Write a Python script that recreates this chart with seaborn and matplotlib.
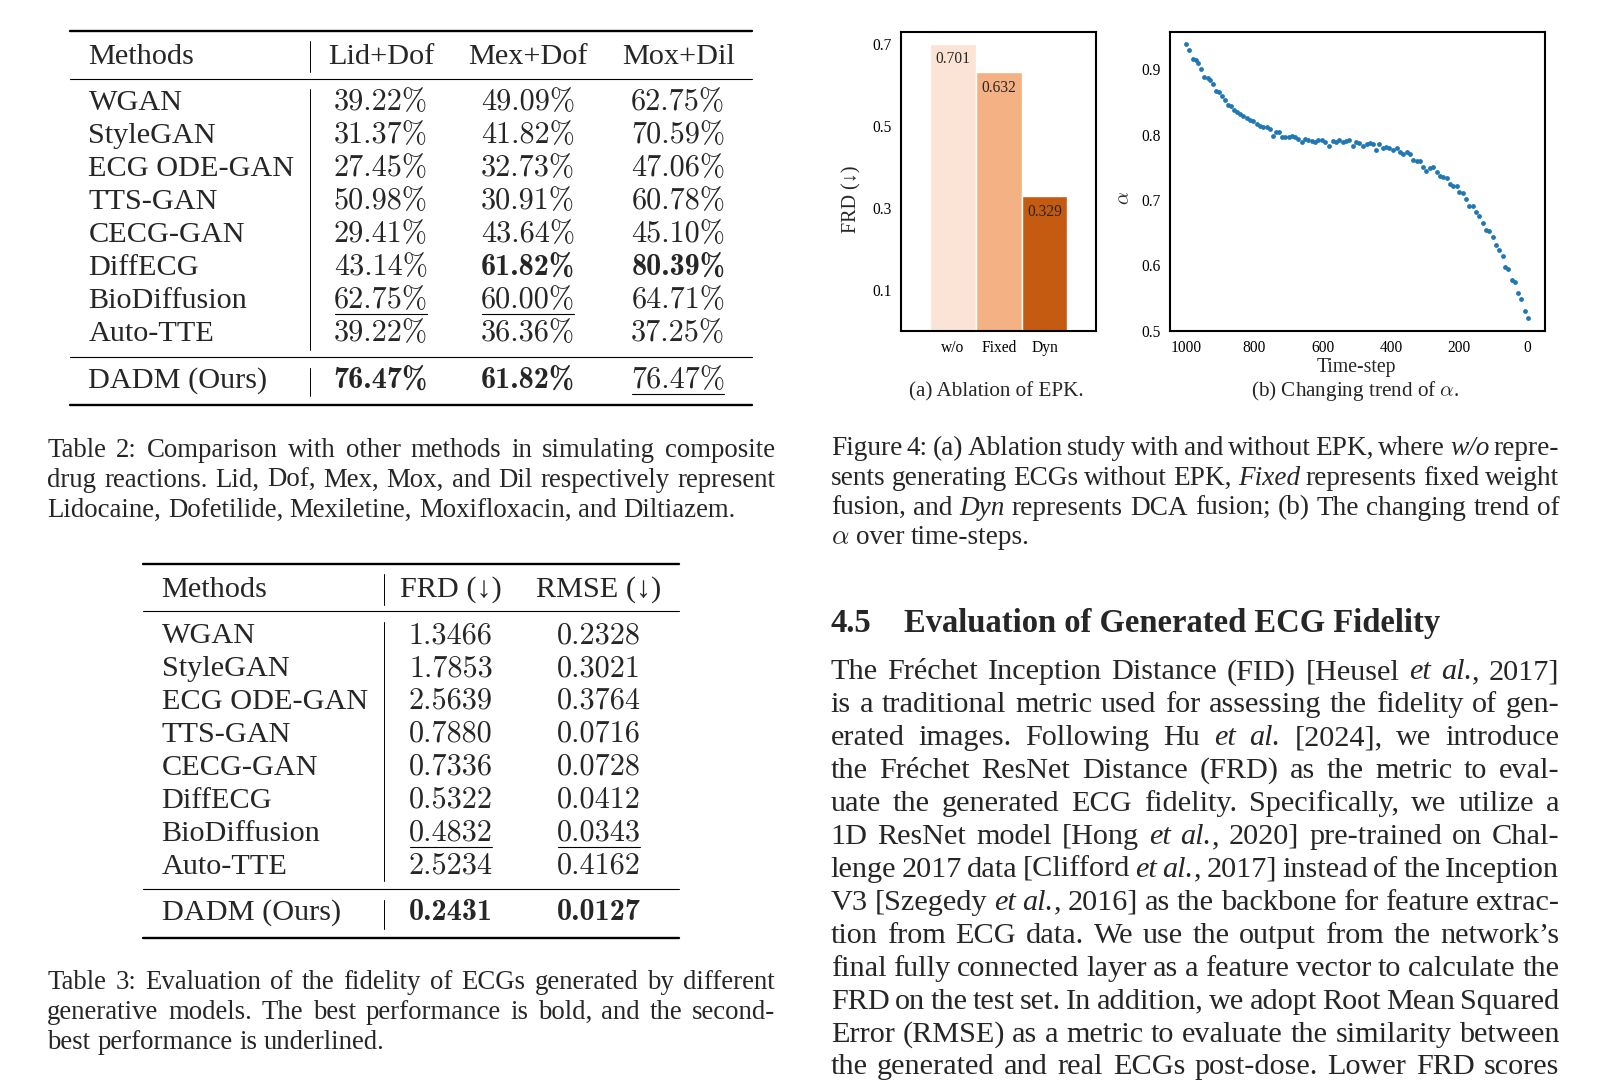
import matplotlib
matplotlib.use("Agg")
import matplotlib.pyplot as plt
from matplotlib.lines import Line2D
import seaborn as sns

W, H = 1614, 1086

# ---- table data ----
methods = ["WGAN", "StyleGAN", "ECG ODE-GAN", "TTS-GAN", "CECG-GAN",
           "DiffECG", "BioDiffusion", "Auto-TTE", "DADM (Ours)"]
combo_cols = ["Lid+Dof", "Mex+Dof", "Mox+Dil"]
lid_dof = [39.22, 31.37, 27.45, 50.98, 29.41, 43.14, 62.75, 39.22, 76.47]
mex_dof = [49.09, 41.82, 32.73, 30.91, 43.64, 61.82, 60.00, 36.36, 61.82]
mox_dil = [62.75, 70.59, 47.06, 60.78, 45.10, 80.39, 64.71, 37.25, 76.47]
t2_bold = {(5, 1), (5, 2), (8, 0), (8, 1)}
t2_under = {(6, 0), (6, 1), (8, 2)}

fid_cols = ["FRD (↓)", "RMSE (↓)"]
frd = [1.3466, 1.7853, 2.5639, 0.7880, 0.7336, 0.5322, 0.4832, 2.5234, 0.2431]
rmse = [0.2328, 0.3021, 0.3764, 0.0716, 0.0728, 0.0412, 0.0343, 0.4162, 0.0127]
t3_bold = {(8, 0), (8, 1)}
t3_under = {(6, 0), (6, 1)}

# ---- figure 4 data ----
ablation = ["w/o", "Fixed", "Dyn"]
ablation_frd = [0.701, 0.632, 0.329]
bar_colors = ["#FBE4D6", "#F4B183", "#C55A11"]

timestep = [1000, 990, 980, 971, 964, 956, 946, 937, 929, 920, 912, 903, 895, 886,
            878, 868, 859, 851, 842, 832, 822, 813, 803, 793, 783, 774, 764, 754,
            746, 737, 727, 720, 710, 700, 691, 681, 671, 661, 652, 642, 632, 622,
            613, 603, 593, 580, 571, 561, 551, 541, 532, 522, 512, 502, 493, 481,
            471, 461, 452, 444, 434, 424, 415, 405, 395, 383, 374, 364, 354, 344,
            335, 325, 315, 305, 296, 286, 276, 266, 257, 247, 237, 227, 218, 208,
            200, 190, 180, 171, 161, 151, 141, 132, 122, 112, 102, 93, 83, 73,
            66, 57, 47, 37, 27, 18, 8, 0]
alpha = [0.938, 0.930, 0.916, 0.914, 0.910, 0.900, 0.888, 0.886, 0.884, 0.878,
         0.866, 0.865, 0.859, 0.853, 0.845, 0.843, 0.837, 0.834, 0.831, 0.829,
         0.826, 0.823, 0.820, 0.816, 0.813, 0.812, 0.811, 0.808, 0.798, 0.804,
         0.804, 0.796, 0.797, 0.797, 0.798, 0.796, 0.793, 0.789, 0.793, 0.792,
         0.790, 0.789, 0.792, 0.791, 0.788, 0.783, 0.790, 0.789, 0.791, 0.789,
         0.790, 0.791, 0.783, 0.789, 0.787, 0.783, 0.785, 0.787, 0.785, 0.776,
         0.785, 0.780, 0.781, 0.779, 0.777, 0.780, 0.773, 0.770, 0.773, 0.770,
         0.761, 0.759, 0.759, 0.751, 0.745, 0.749, 0.751, 0.742, 0.737, 0.735,
         0.733, 0.724, 0.722, 0.721, 0.712, 0.710, 0.702, 0.691, 0.690, 0.681,
         0.675, 0.665, 0.654, 0.652, 0.644, 0.631, 0.623, 0.614, 0.598, 0.595,
         0.578, 0.574, 0.558, 0.549, 0.530, 0.519]

# ---- running text (_ toggles italics) ----
cap2 = ["Table 2: Comparison with other methods in simulating composite",
        "drug reactions. Lid, Dof, Mex, Mox, and Dil respectively represent",
        "Lidocaine, Dofetilide, Mexiletine, Moxifloxacin, and Diltiazem."]
cap3 = ["Table 3: Evaluation of the fidelity of ECGs generated by different",
        "generative models. The best performance is bold, and the second-",
        "best performance is underlined."]
cap4 = ["Figure 4: (a) Ablation study with and without EPK, where _w/o_ repre-",
        "sents generating ECGs without EPK, _Fixed_ represents fixed weight",
        "fusion, and _Dyn_ represents DCA fusion; (b) The changing trend of",
        "$\\alpha$ over time-steps."]
body = ["The Fréchet Inception Distance (FID) [Heusel _et al._, 2017]",
        "is a traditional metric used for assessing the fidelity of gen-",
        "erated images. Following Hu _et al._ [2024], we introduce",
        "the Fréchet ResNet Distance (FRD) as the metric to eval-",
        "uate the generated ECG fidelity. Specifically, we utilize a",
        "1D ResNet model [Hong _et al._, 2020] pre-trained on Chal-",
        "lenge 2017 data [Clifford _et al._, 2017] instead of the Inception",
        "V3 [Szegedy _et al._, 2016] as the backbone for feature extrac-",
        "tion from ECG data. We use the output from the network’s",
        "final fully connected layer as a feature vector to calculate the",
        "FRD on the test set. In addition, we adopt Root Mean Squared",
        "Error (RMSE) as a metric to evaluate the similarity between",
        "the generated and real ECGs post-dose. Lower FRD scores"]

sns.set_style("white")
plt.rcParams["font.family"] = ["Liberation Serif", "DejaVu Serif"]
plt.rcParams["mathtext.fontset"] = "cm"

fig = plt.figure(figsize=(W / 100, H / 100), dpi=100)
renderer = fig.canvas.get_renderer()


def base_of(y, size):
    return y + 0.3 * size * 100 / 72


def label(x, y, s, size, ha="left", **kw):
    return fig.text(x / W, 1 - base_of(y, size) / H, s, fontsize=size, ha=ha,
                    va="baseline", **kw)


def hrule(y, x0, x1, lw):
    fig.add_artist(Line2D([x0 / W, x1 / W], [1 - y / H] * 2, color="black",
                          lw=lw, transform=fig.transFigure))


def vrule(x, y0, y1, lw=0.7):
    fig.add_artist(Line2D([x / W] * 2, [1 - y0 / H, 1 - y1 / H], color="black",
                          lw=lw, transform=fig.transFigure))


def parse(line):
    words, cur, ital, buf = [], [], False, ""
    for ch in line + " ":
        if ch == "_":
            if buf:
                cur.append((buf, ital))
                buf = ""
            ital = not ital
        elif ch == " ":
            if buf:
                cur.append((buf, ital))
                buf = ""
            if cur:
                words.append(cur)
                cur = []
        else:
            buf += ch
    return words


def write(y, line, x0, x1, size, justify=True):
    words = parse(line)
    placed, widths = [], []
    for w in words:
        row, tot = [], 0
        for txt, it in w:
            t = label(0, y, txt, size, style="italic" if it else "normal")
            wd = t.get_window_extent(renderer).width
            row.append((t, wd))
            tot += wd
        placed.append(row)
        widths.append(tot)
    if justify and len(words) > 1:
        gap = (x1 - x0 - sum(widths)) / (len(words) - 1)
    else:
        gap = 0.25 * size * 100 / 72
    x = x0
    for row in placed:
        for t, wd in row:
            t.set_x(x / W)
            x += wd
        x += gap


def paragraph(lines, y0, step, x0, x1, size, last_full=False):
    for i, ln in enumerate(lines):
        full = last_full or i < len(lines) - 1
        write(y0 + i * step, ln, x0, x1, size, justify=full)


def number(cx, y, s, bold, under, size):
    # Computer Modern digits (cmr10 / cmb10)
    t = label(cx, y, s, size, ha="center", family="cmb10" if bold else "cmr10")
    if under:
        bb = t.get_window_extent(renderer)
        yl = 1 - (base_of(y, size) + 6.5) / H
        fig.add_artist(Line2D([(bb.x0 + 1) / W, (bb.x1 - 1) / W], [yl, yl],
                              color="black", lw=0.8, transform=fig.transFigure))


TS = 21.8
# ---- Table 2 ----
hrule(30.9, 70, 752.4, 1.7)
label(88.5, 54.6, "Methods", TS)
vrule(309.8, 41.2, 72)
col_x2 = [380.8, 528.0, 678.3]
for cx, name in zip(col_x2, combo_cols):
    label(cx, 54.6, name, TS, ha="center")
hrule(79.3, 70, 752.4, 0.8)
row_y2 = [100.9 + 32.94 * i for i in range(8)] + [378.8]
vrule(309.8, 88.5, 350)
vrule(309.8, 367.5, 396.3)
hrule(357.2, 70, 752.4, 0.8)
hrule(404.5, 70, 752.4, 1.7)
for r, (m, ry) in enumerate(zip(methods, row_y2)):
    label(88.5, ry, m, TS)
    for c, (cx, col) in enumerate(zip(col_x2, [lid_dof, mex_dof, mox_dil])):
        number(cx, ry, "{:.2f}%".format(col[r]), (r, c) in t2_bold,
               (r, c) in t2_under, TS)

paragraph(cap2, 448.8, 29.85, 47.3, 775.1, 19.3)

# ---- Table 3 ----
hrule(564.1, 143.1, 679.3, 1.7)
label(161.6, 587.7, "Methods", TS)
vrule(383.9, 574, 605)
col_x3 = [450.8, 599.1]
for cx, name in zip(col_x3, fid_cols):
    label(cx, 587.7, name, TS, ha="center")
hrule(611.4, 143.1, 679.3, 0.8)
row_y3 = [634.0 + 32.94 * i for i in range(8)] + [911.0]
vrule(383.9, 621.7, 881)
vrule(383.9, 899.6, 928.5)
hrule(889.3, 143.1, 679.3, 0.8)
hrule(937.7, 143.1, 679.3, 1.7)
for r, (m, ry) in enumerate(zip(methods, row_y3)):
    label(161.6, ry, m, TS)
    for c, (cx, col) in enumerate(zip(col_x3, [frd, rmse])):
        number(cx, ry, "{:.4f}".format(col[r]), (r, c) in t3_bold,
               (r, c) in t3_under, TS)

paragraph(cap3, 980.9, 29.85, 47.3, 775.1, 19.3)

# ---- Figure 4 (a) ----
axa = fig.add_axes([900.6 / W, 1 - 331.4 / H, 195.6 / W, 299.5 / H])
sns.barplot(x=ablation, y=ablation_frd, hue=ablation, palette=bar_colors,
            width=1.0, saturation=1, legend=False, ax=axa)
for cont in axa.containers:
    axa.bar_label(cont, fmt="%.3f", padding=-17, fontsize=11.2)
axa.set_xlim(-1.15, 3.13)
axa.set_ylim(0, 0.73)
axa.set_yticks([0.1, 0.3, 0.5, 0.7])
axa.set_ylabel("FRD (↓)", fontsize=14.5)
axa.yaxis.set_label_coords(-0.2, 0.44)

# ---- Figure 4 (b) ----
axb = fig.add_axes([1170 / W, 1 - 331.4 / H, 375 / W, 299.5 / H])
sns.scatterplot(x=timestep, y=alpha, s=12, color="#1f77b4", linewidth=0, ax=axb)
axb.set_xlim(1047, -51)
axb.set_ylim(0.499, 0.957)
axb.set_xticks([1000, 800, 600, 400, 200, 0])
axb.set_yticks([0.5, 0.6, 0.7, 0.8, 0.9])
axb.set_xlabel("Time-step", fontsize=14.2)
axb.xaxis.set_label_coords(0.4976, -0.088)
axb.set_ylabel("$\\alpha$", fontsize=14.5)
axb.yaxis.set_label_coords(-0.095, 0.445)

for ax in (axa, axb):
    for sp in ax.spines.values():
        sp.set_color("black")
        sp.set_linewidth(1.5)
        sp.set_visible(True)
    ax.tick_params(labelsize=11.2, length=3, width=0.8, colors="black")

label(996.4, 390.1, "(a) Ablation of EPK.", 15.2, ha="center")
label(1355.6, 390.1, "(b) Changing trend of $\\alpha$.", 15.2, ha="center")

paragraph(cap4, 446.7, 29.85, 830.7, 1559.4, 19.6)

# ---- section text ----
label(830.7, 622.7, "4.5", 23.5, weight="bold")
label(903.7, 622.7, "Evaluation of Generated ECG Fidelity", 23.5, weight="bold")
paragraph(body, 670.1, 32.94, 830.7, 1559.4, 21.8, last_full=True)

fig.savefig("out.png", dpi=100)
